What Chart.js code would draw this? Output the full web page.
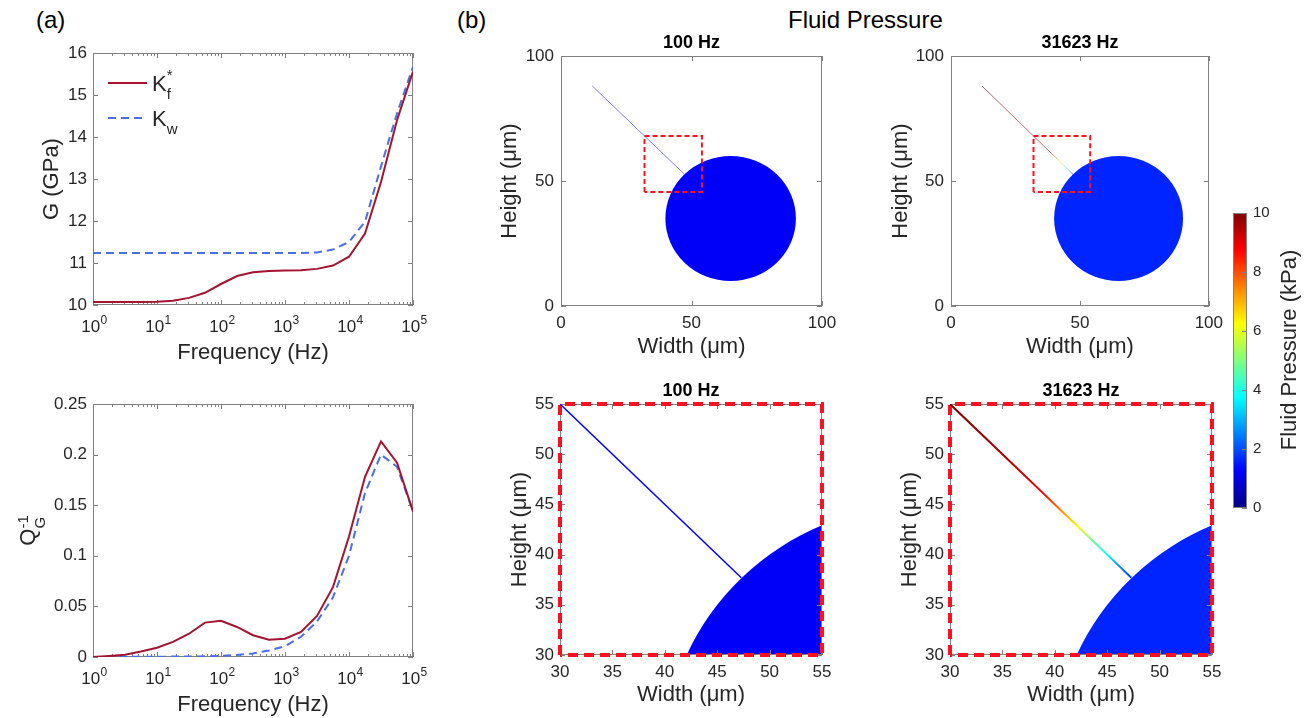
<!DOCTYPE html>
<html lang="en">
<head>
<meta charset="UTF-8" />
<title>Dispersion and fluid pressure</title>
<script src="https://cdn.jsdelivr.net/npm/chart.js"></script>
<style>
  body { margin: 0; background: #fff; }
  #fig { position: relative; width: 1309px; height: 718px; overflow: hidden;
         font-family: "Liberation Sans", Arial, sans-serif; color: #000; }
  #fig canvas { position: absolute; }
  .lbl { position: absolute; font-size: 24px; line-height: 24px; white-space: nowrap; }
</style>
</head>
<body>
<div id="fig">
  <div class="lbl" style="left:36px;top:8px">(a)</div>
  <div class="lbl" style="left:457px;top:8px">(b)</div>
  <div class="lbl" style="left:788px;top:8px">Fluid Pressure</div>
  <canvas id="gChart"></canvas>
  <canvas id="qChart"></canvas>
  <canvas id="b1"></canvas>
  <canvas id="b2"></canvas>
  <canvas id="b3"></canvas>
  <canvas id="b4"></canvas>
  <canvas id="cbar"></canvas>
</div>

<script>
// ---- panel (a) data: quarter-decade frequencies (Hz)
const freq = [1, 1.778, 3.162, 5.623, 10, 17.78, 31.62, 56.23, 100, 177.8, 316.2, 562.3,
              1000, 1778, 3162, 5623, 10000, 17783, 31623, 56234, 100000];
const gKf = [10.07, 10.07, 10.07, 10.07, 10.08, 10.10, 10.17, 10.29, 10.50, 10.69, 10.78,
             10.81, 10.82, 10.83, 10.86, 10.94, 11.15, 11.70, 12.93, 14.40, 15.56];
const gKw = [11.24, 11.24, 11.24, 11.24, 11.24, 11.24, 11.24, 11.24, 11.24, 11.24, 11.24,
             11.24, 11.24, 11.24, 11.25, 11.32, 11.50, 11.98, 13.30, 14.56, 15.67];
const qKf = [0, 0.001, 0.0023, 0.0055, 0.0092, 0.0149, 0.023, 0.034, 0.0357, 0.0297, 0.0215,
             0.017, 0.018, 0.0248, 0.0406, 0.069, 0.119, 0.178, 0.213, 0.192, 0.1437];
const qKw = [0, 0.0001, 0.0002, 0.0002, 0.0003, 0.0004, 0.0005, 0.0007, 0.0012, 0.002, 0.0035,
             0.0065, 0.0106, 0.02, 0.035, 0.059, 0.10, 0.162, 0.20, 0.188, 0.144];
const freqTicks = [1, 10, 100, 1000, 10000, 100000];
const gTicks = [10, 11, 12, 13, 14, 15, 16];
const qTicks = [0, 0.05, 0.1, 0.15, 0.2, 0.25];
const seriesBase = ['K', 'K'];
const seriesSub = ['f', 'w'];
const seriesSup = ['*', ''];

// ---- panel (b) data (micrometres, kPa)
const fullTicks = [0, 50, 100];
const zoomTicks = [30, 35, 40, 45, 50, 55];
const poreCenter = [65, 35];
const poreCenterZoom = [65, 20];
const poreRadius = 25;
const poreP100 = 1.2;
const poreP31623 = 1.6;
const crackFullX = [12, 47.3];
const crackFullY = [88, 52.7];
const crackZoomX = [30, 47.3];
const crackZoomY = [55, 37.7];
const crackP100 = [1.25, 1.25];
const crackHiFullX = [12, 36, 39, 40.5, 42.2, 43.5, 45, 46.3, 47.3];
const crackHiFullY = [88, 64, 61, 59.5, 57.8, 56.5, 55, 53.7, 52.7];
const crackHiZoomX = [30, 36, 39, 40.5, 42.2, 43.5, 45, 46.3, 47.3];
const crackHiZoomY = [55, 49, 46, 44.5, 42.8, 41.5, 40, 38.7, 37.7];
const crackP31623 = [10, 9.5, 8.75, 7.5, 6.25, 5, 3.75, 2.5, 1.8];
const boxX = [32, 32, 54, 54, 32];
const boxY = [45.6, 68, 68, 45.6, 45.6];
const zoomBoxX = [30, 30, 55, 55, 30];
const zoomBoxY = [30, 55, 55, 30, 30];
const cbarTicks = [0, 2, 4, 6, 8, 10];

const FONT = '"Liberation Sans", Arial, sans-serif';
const TEXT = '#262626';
const AXIS = '#808080';
Chart.defaults.font.family = FONT;
Chart.defaults.color = TEXT;

function jet(p, alpha = 1) {
  const t = Math.min(Math.max(p / 10, 0), 1);
  const c = v => Math.round(255 * Math.min(Math.max(v, 0), 1));
  return `rgba(${c(1.5 - Math.abs(4 * t - 3))},${c(1.5 - Math.abs(4 * t - 2))},${c(1.5 - Math.abs(4 * t - 1))},${alpha})`;
}

function place(id, left, top, w, h) {
  const c = document.getElementById(id);
  c.width = w; c.height = h;
  c.style.left = left + 'px'; c.style.top = top + 'px';
  c.style.width = w + 'px'; c.style.height = h + 'px';
  return c;
}

const pts = (xs, ys) => xs.map((x, i) => ({ x, y: ys[i] }));

// box round the axes with inward ticks, like MATLAB "box on"
function drawBox(chart, opts) {
  const { ctx, chartArea: a, scales } = chart;
  const len = 5;
  ctx.save();
  ctx.strokeStyle = AXIS;
  ctx.lineWidth = 1;
  ctx.strokeRect(Math.round(a.left) + 0.5, Math.round(a.top) + 0.5,
                 Math.round(a.width) - 1, Math.round(a.height) - 1);
  ctx.beginPath();
  Object.values(scales).forEach(s => {
    if (!s.options.display) return;
    const marks = s.ticks.map(t => [t.value, len]);
    if (s.type === 'logarithmic') {
      for (let d = 1; d < s.max; d *= 10)
        for (let k = 2; k <= 9; k++) marks.push([k * d, 3]);
    }
    marks.forEach(([v, l]) => {
      const p = Math.round(s.getPixelForValue(v)) + 0.5;
      if (s.isHorizontal()) {
        ctx.moveTo(p, a.bottom); ctx.lineTo(p, a.bottom - l);
        ctx.moveTo(p, a.top); ctx.lineTo(p, a.top + l);
      } else {
        if (!opts.rightOnly) { ctx.moveTo(a.left, p); ctx.lineTo(a.left + l, p); }
        ctx.moveTo(a.right, p); ctx.lineTo(a.right - l, p);
      }
    });
  });
  ctx.stroke();
  ctx.restore();
}

const axesBox = {
  id: 'axesBox',
  beforeDatasetsDraw(chart, args, opts) { if (!opts.onTop) drawBox(chart, opts); },
  afterDatasetsDraw(chart, args, opts) { if (opts.onTop) drawBox(chart, opts); }
};

// decade labels 10^n with a real raised exponent under the log axis
const decadeLabels = {
  id: 'decadeLabels',
  afterDraw(chart) {
    const { ctx, chartArea: a, scales: { x } } = chart;
    ctx.save();
    ctx.fillStyle = TEXT;
    ctx.textBaseline = 'alphabetic';
    x.ticks.forEach(t => {
      const e = String(Math.round(Math.log10(t.value)));
      ctx.font = `17px ${FONT}`;
      const bw = ctx.measureText('10').width;
      ctx.font = `12px ${FONT}`;
      const ew = ctx.measureText(e).width;
      const x0 = x.getPixelForValue(t.value) - (bw + ew) / 2 + 1;
      const base = a.bottom + 27;
      ctx.font = `17px ${FONT}`;
      ctx.fillText('10', x0, base);
      ctx.font = `12px ${FONT}`;
      ctx.fillText(e, x0 + bw + 0.5, base - 8);
    });
    ctx.restore();
  }
};

// pore drawn as a filled circle in data units, clipped to the axes
const pore = {
  id: 'pore',
  beforeDatasetsDraw(chart, args, opts) {
    if (!opts.center) return;
    const { ctx, chartArea: a, scales: { x, y } } = chart;
    const cx = x.getPixelForValue(opts.center[0]);
    const cy = y.getPixelForValue(opts.center[1]);
    const rx = Math.abs(x.getPixelForValue(opts.center[0] + opts.r) - cx);
    const ry = Math.abs(y.getPixelForValue(opts.center[1] + opts.r) - cy);
    ctx.save();
    ctx.beginPath();
    ctx.rect(a.left, a.top, a.width, a.height);
    ctx.clip();
    ctx.fillStyle = jet(opts.p);
    ctx.beginPath();
    ctx.ellipse(cx, cy, rx, ry, 0, 0, Math.PI * 2);
    ctx.fill();
    ctx.restore();
  }
};

const subTitle = {
  id: 'subTitle',
  afterDraw(chart, args, opts) {
    if (!opts.text) return;
    const { ctx, chartArea: a } = chart;
    ctx.save();
    ctx.font = `bold 18px ${FONT}`;
    ctx.fillStyle = '#000';
    ctx.textAlign = 'center';
    ctx.textBaseline = 'middle';
    ctx.fillText(opts.text, (a.left + a.right) / 2, a.top - 13);
    ctx.restore();
  }
};

const legendG = {
  id: 'legendG',
  afterDatasetsDraw(chart) {
    const { ctx, chartArea: a } = chart;
    chart.data.datasets.forEach((ds, i) => {
      const x = a.left + 15, y = a.top + 30 + i * 35;
      ctx.save();
      ctx.strokeStyle = ds.borderColor;
      ctx.lineWidth = ds.borderWidth;
      ctx.setLineDash(ds.borderDash || []);
      ctx.beginPath(); ctx.moveTo(x, y); ctx.lineTo(x + 39, y); ctx.stroke();
      ctx.setLineDash([]);
      ctx.fillStyle = TEXT;
      ctx.font = `22px ${FONT}`;
      ctx.fillText(seriesBase[i], x + 44, y + 8);
      const kw = ctx.measureText(seriesBase[i]).width;
      ctx.font = `15px ${FONT}`;
      ctx.fillText(seriesSub[i], x + 44 + kw, y + 16);
      if (seriesSup[i]) ctx.fillText(seriesSup[i], x + 44 + kw, y - 3);
      ctx.restore();
    });
  }
};

const qLabel = {
  id: 'qLabel',
  afterDraw(chart) {
    const { ctx, chartArea: a } = chart;
    ctx.save();
    ctx.translate(27, (a.top + a.bottom) / 2);
    ctx.rotate(-Math.PI / 2);
    ctx.fillStyle = TEXT;
    ctx.font = `22px ${FONT}`;
    const qw = ctx.measureText('Q').width;
    ctx.font = `15px ${FONT}`;
    const sw = Math.max(ctx.measureText('-1').width, ctx.measureText('G').width);
    const x0 = -(qw + sw) / 2;
    ctx.font = `22px ${FONT}`;
    ctx.fillText('Q', x0, 8);
    ctx.font = `15px ${FONT}`;
    ctx.fillText('-1', x0 + qw, 1);
    ctx.fillText('G', x0 + qw, 18);
    ctx.restore();
  }
};

const cbarLabel = {
  id: 'cbarLabel',
  afterDraw(chart) {
    const { ctx } = chart;
    ctx.save();
    ctx.translate(1290 - 1222, 350 - 195);
    ctx.rotate(-Math.PI / 2);
    ctx.fillStyle = TEXT;
    ctx.font = `22px ${FONT}`;
    ctx.textAlign = 'center';
    ctx.textBaseline = 'middle';
    ctx.fillText('Fluid Pressure (kPa)', 0, 0);
    ctx.restore();
  }
};

function fixedTicks(list) {
  return s => { s.ticks = list.map(v => ({ value: v })); };
}

function freqChart(id, top, h, padTop, xH, yCfg, datasets, extra) {
  place(id, 0, top, 440, h);
  return new Chart(document.getElementById(id), {
    type: 'scatter',
    data: { datasets },
    plugins: [axesBox, decadeLabels].concat(extra),
    options: {
      responsive: false,
      animation: false,
      layout: { padding: { top: padTop, right: 27, left: 0, bottom: 0 } },
      plugins: { legend: { display: false }, tooltip: { enabled: false }, axesBox: {} },
      scales: {
        x: {
          type: 'logarithmic', min: 1, max: 100000,
          grid: { display: false, drawTicks: false, tickLength: 0 },
          border: { display: false },
          afterBuildTicks: fixedTicks(freqTicks),
          afterFit: s => { s.height = xH; },
          ticks: { display: false },
          title: { display: true, text: 'Frequency (Hz)', font: { size: 22 }, padding: { top: 0, bottom: 0 } }
        },
        y: Object.assign({
          type: 'linear',
          grid: { display: false, drawTicks: false, tickLength: 0 },
          border: { display: false },
          afterFit: s => { s.width = 93; },
        }, yCfg)
      }
    }
  });
}

const red = '#a2142f', blue = '#4a6fe3';
const lineSet = (label, ys, color, dash) => ({
  label, data: pts(freq, ys), showLine: true, pointRadius: 0,
  borderColor: color, borderWidth: 2, borderDash: dash, tension: 0
});

freqChart('gChart', 30, 336, 23, 61, {
  min: 10, max: 16,
  afterBuildTicks: fixedTicks(gTicks),
  ticks: { padding: 6, font: { size: 17 } },
  title: { display: true, text: 'G (GPa)', font: { size: 22 }, padding: { top: 38.8, bottom: 0 } }
}, [lineSet('K_f^*', gKf, red, []), lineSet('K_w', gKw, blue, [8, 5])], [legendG]);

freqChart('qChart', 375, 343, 29, 61, {
  min: 0, max: 0.25,
  afterBuildTicks: fixedTicks(qTicks),
  ticks: { padding: 6, font: { size: 17 }, callback: v => String(+v.toFixed(2)) },
  title: { display: false }
}, [lineSet('K_f^*', qKf, red, []), lineSet('K_w', qKw, blue, [8, 5])], [qLabel]);

function crackStroke(xs, ys, ps, alpha) {
  return c => {
    const chart = c.chart;
    if (!chart.chartArea) return jet(ps[0], alpha);
    const sx = chart.scales.x, sy = chart.scales.y, n = xs.length - 1;
    const g = chart.ctx.createLinearGradient(
      sx.getPixelForValue(xs[0]), sy.getPixelForValue(ys[0]),
      sx.getPixelForValue(xs[n]), sy.getPixelForValue(ys[n]));
    xs.forEach((x, i) => g.addColorStop((x - xs[0]) / (xs[n] - xs[0]), jet(ps[i], alpha)));
    return g;
  };
}

function poreChart(id, left, top, w, cfg) {
  place(id, left, top, w, 350);
  const axis = (ticks, title, pad, tPad) => ({
    type: 'linear', min: ticks[0], max: ticks[ticks.length - 1],
    grid: { display: false, drawTicks: false, tickLength: 0 },
    border: { display: false },
    afterBuildTicks: fixedTicks(ticks),
    ticks: { padding: pad, autoSkip: false, maxRotation: 0, font: { size: 17 } },
    title: { display: true, text: title, font: { size: 22 }, padding: tPad }
  });
  const x = axis(cfg.ticks, 'Width (μm)', 7, { top: 0, bottom: 9.8 });
  x.afterFit = s => { s.height = cfg.xH; };
  const y = axis(cfg.ticks, 'Height (μm)', cfg.yPad, { top: cfg.yTitle, bottom: 0 });
  y.afterFit = s => { s.width = cfg.yW; };
  return new Chart(document.getElementById(id), {
    type: 'scatter',
    data: {
      datasets: [
        { label: 'crack', data: pts(cfg.cx, cfg.cy), showLine: true, pointRadius: 0, tension: 0,
          borderWidth: cfg.crackW, borderColor: crackStroke(cfg.cx, cfg.cy, cfg.cp, cfg.alpha) },
        { label: 'zoom box', data: pts(cfg.bx, cfg.by), showLine: true, pointRadius: 0, tension: 0,
          clip: 6, borderWidth: cfg.boxW, borderColor: '#ff1020', borderDash: cfg.dash,
          borderCapStyle: 'butt' }
      ]
    },
    plugins: [pore, axesBox, subTitle],
    options: {
      responsive: false,
      animation: false,
      layout: { padding: { top: 36, right: cfg.padR, left: 0, bottom: 0 } },
      plugins: {
        legend: { display: false }, tooltip: { enabled: false }, axesBox: {},
        pore: { center: cfg.center, r: poreRadius, p: cfg.poreP },
        subTitle: { text: cfg.title }
      },
      scales: { x, y }
    }
  });
}

poreChart('b1', 470, 20, 380, {
  title: '100 Hz', ticks: fullTicks, xH: 64, yW: 91, yPad: 7, yTitle: 26.8, padR: 28,
  center: poreCenter, poreP: poreP100,
  cx: crackFullX, cy: crackFullY, cp: crackP100, alpha: 0.5, crackW: 1,
  bx: boxX, by: boxY, boxW: 2, dash: [5, 3]
});
poreChart('b2', 860, 20, 370, {
  title: '31623 Hz', ticks: fullTicks, xH: 64, yW: 91, yPad: 7, yTitle: 27.8, padR: 18,
  center: poreCenter, poreP: poreP31623,
  cx: crackHiFullX, cy: crackHiFullY, cp: crackP31623, alpha: 0.6, crackW: 1,
  bx: boxX, by: boxY, boxW: 2, dash: [5, 3]
});
poreChart('b3', 470, 368, 380, {
  title: '100 Hz', ticks: zoomTicks, xH: 63, yW: 90, yPad: 6, yTitle: 36.8, padR: 28,
  center: poreCenterZoom, poreP: poreP100,
  cx: crackZoomX, cy: crackZoomY, cp: crackP100, alpha: 1, crackW: 1.5,
  bx: zoomBoxX, by: zoomBoxY, boxW: 4, dash: [10, 6]
});
poreChart('b4', 860, 368, 370, {
  title: '31623 Hz', ticks: zoomTicks, xH: 63, yW: 90, yPad: 6, yTitle: 36.8, padR: 18,
  center: poreCenterZoom, poreP: poreP31623,
  cx: crackHiZoomX, cy: crackHiZoomY, cp: crackP31623, alpha: 1, crackW: 2,
  bx: zoomBoxX, by: zoomBoxY, boxW: 4, dash: [10, 6]
});

// colour bar: one floating bar from 0 to 10 kPa filled with the jet map
place('cbar', 1222, 195, 87, 330);
new Chart(document.getElementById('cbar'), {
  type: 'bar',
  data: {
    labels: ['p'],
    datasets: [{
      data: [[cbarTicks[0], cbarTicks[cbarTicks.length - 1]]],
      barPercentage: 1, categoryPercentage: 1, borderWidth: 0,
      backgroundColor: c => {
        const chart = c.chart;
        if (!chart.chartArea) return jet(5);
        const y = chart.scales.y;
        const lo = cbarTicks[0], hi = cbarTicks[cbarTicks.length - 1];
        const g = chart.ctx.createLinearGradient(0, y.getPixelForValue(lo), 0, y.getPixelForValue(hi));
        for (let i = 0; i <= 8; i++) g.addColorStop(i / 8, jet(lo + (hi - lo) * i / 8));
        return g;
      }
    }]
  },
  plugins: [axesBox, cbarLabel],
  options: {
    responsive: false,
    animation: false,
    layout: { padding: { top: 18, right: 0, left: 11, bottom: 17 } },
    plugins: { legend: { display: false }, tooltip: { enabled: false }, axesBox: { onTop: true, rightOnly: true } },
    scales: {
      x: { display: false },
      y: {
        position: 'right', min: 0, max: 10,
        grid: { display: false, drawTicks: false, tickLength: 0 },
        border: { display: false },
        afterBuildTicks: fixedTicks(cbarTicks),
        afterFit: s => { s.width = 62; },
        ticks: { padding: 6, font: { size: 15 } }
      }
    }
  }
});
</script>
</body>
</html>
